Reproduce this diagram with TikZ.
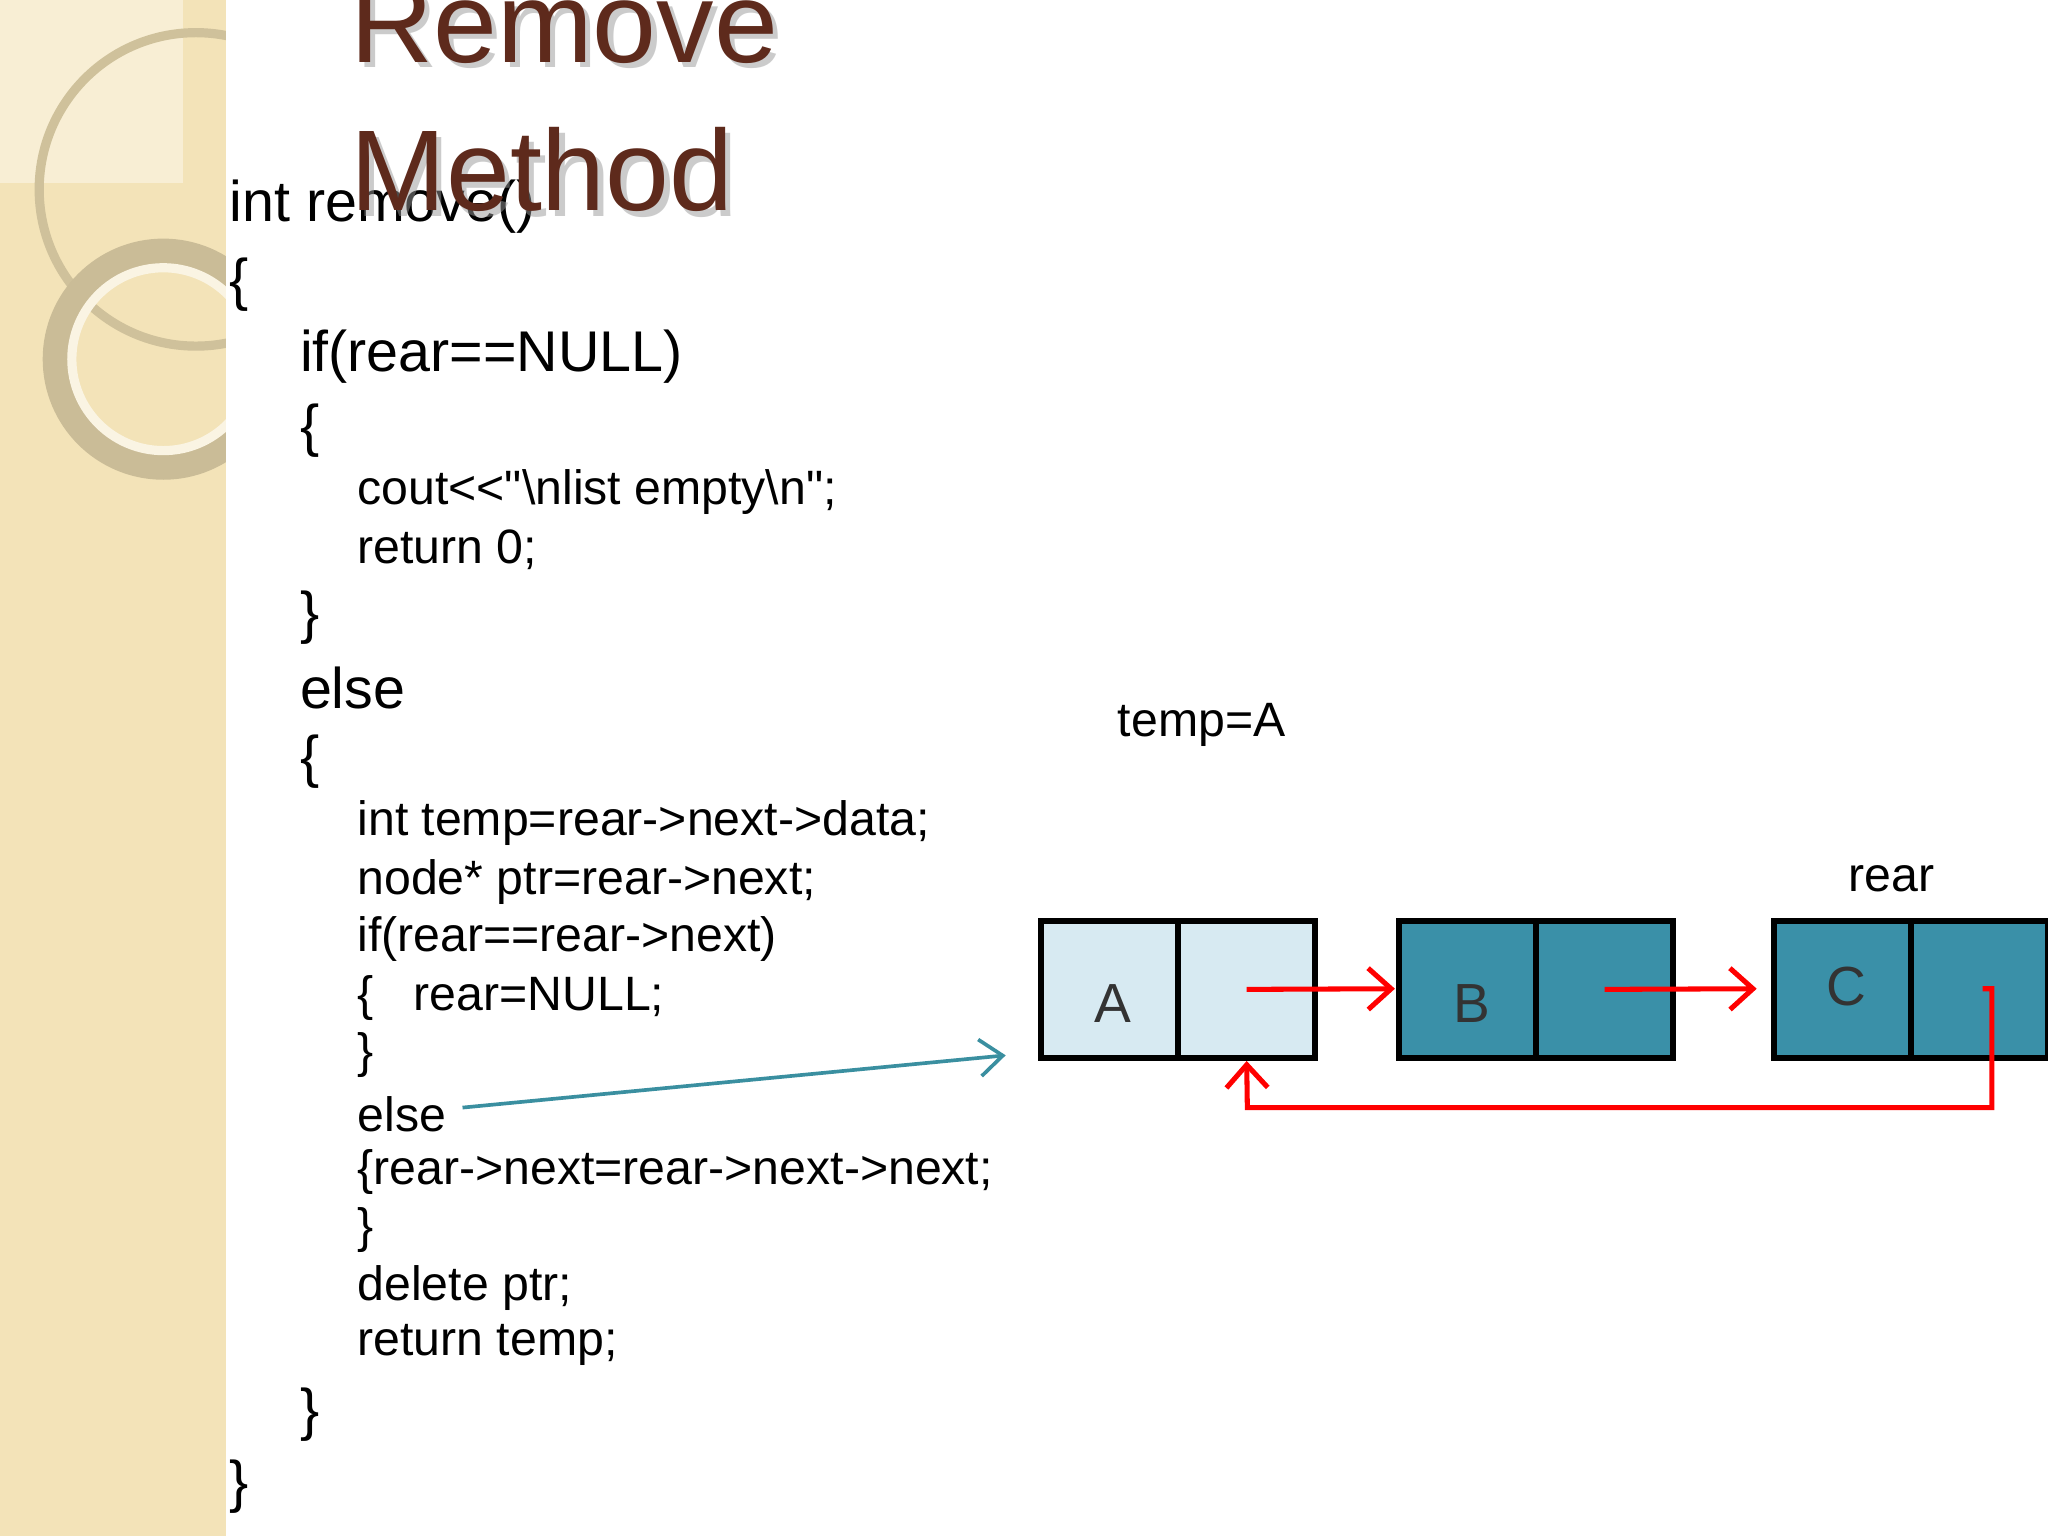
\documentclass[tikz,border=0pt]{standalone}
\usepackage{fontspec}
\setmainfont{Liberation Sans}[Ligatures=TeXOff]
\usetikzlibrary{arrows.meta}
\definecolor{beige}{HTML}{F3E3B8}
\definecolor{ring}{HTML}{E6D6AC}
\definecolor{titlec}{HTML}{5E2A1C}
\definecolor{lightA}{HTML}{D7EAF2}
\definecolor{tealB}{HTML}{3A90A8}
\definecolor{arrowteal}{HTML}{3A8FA0}
\tikzset{
  code/.style={anchor=west,inner sep=0pt,font=\fontsize{10.5pt}{12pt}\selectfont},
  codeL/.style={anchor=west,inner sep=0pt,font=\fontsize{12.5pt}{14pt}\selectfont},
  cell/.style={draw=black,line width=1.3pt,minimum width=1.05cm,minimum height=1.05cm,inner sep=0pt},
  lbl/.style={inner sep=0pt,font=\fontsize{10.5pt}{12pt}\selectfont},
  redarr/.style={draw=red,line width=1.1pt,-{Straight Barb[length=5pt,width=9pt]}},
  titlef/.style={inner sep=0pt,text=titlec,font=\fontsize{25pt}{28pt}\selectfont}
}
\begin{document}
\begin{tikzpicture}[x=0.01cm,y=-0.01cm]
\useasboundingbox (0,0) rectangle (1568,1176);
\begin{scope}
\clip (0,0) rectangle (1568,1176);
\fill[white] (0,0) rectangle (1568,1176);
\fill[beige] (0,0) rectangle (173,1176);
\fill[beige!60!white] (0,0) rectangle (140,140);
\draw[ring!90!black,line width=2pt] (150,145) circle (120);
\draw[ring!88!black,line width=7pt] (125,275) circle (80);
\draw[white!60!beige,line width=2pt] (125,275) circle (70);
\fill[white] (173,0) rectangle (1568,1176);

% code
\node[codeL] (l1) at (175,158) {int remove()};
\node[codeL] (l2) at (175,218) {\{};
\node[codeL] (l3) at (229,273) {if(rear==NULL)};
\node[codeL] (l4) at (229,330) {\{};
\node[code] (l5) at (273,377) {cout{<}{<}"\textbackslash nlist empty\textbackslash n";};
\node[code] (l6) at (273,421) {return 0;};
\node[codeL] (l7) at (229,473) {\}};
\node[codeL] (l8) at (229,527) {else};
\node[codeL] (l9) at (229,583) {\{};
\node[code] (l10) at (273,630) {int temp=rear->next->data;};
\node[code] (l11) at (273,675) {node* ptr=rear->next;};
\node[code] (l12) at (273,719) {if(rear==rear->next)};
\node[code] (l13) at (273,764) {\{\ \ \ rear=NULL;};
\node[code] (l14) at (273,808) {\}};
\node[code] (l15) at (273,853) {else};
\node[code] (l16) at (273,897) {\{rear->next=rear->next->next;};
\node[code] (l17) at (273,942) {\}};
\node[code] (l18) at (273,986) {delete ptr;};
\node[code] (l19) at (273,1030) {return temp;};
\node[codeL] (l20) at (229,1083) {\}};
\node[codeL] (l21) at (175,1138) {\}};

% title
\node[titlef,text=black!40,opacity=0.5] at (436,22) {Remove};
\node[titlef,text=black!40,opacity=0.5] at (419,134) {Method};
\node[titlef] (t1) at (432,18) {Remove};
\node[titlef] (t2) at (415,130) {Method};

% boxes
\node[cell,fill=lightA] (a1) at (849.5,757.5) {};
\node[cell,fill=lightA] (a2) at (954.5,757.5) {};
\node[cell,fill=tealB] (b1) at (1123.5,757.5) {};
\node[cell,fill=tealB] (b2) at (1228.5,757.5) {};
\node[cell,fill=tealB] (c1) at (1410.5,757.5) {};
\node[cell,fill=tealB] (c2) at (1515.5,757.5) {};
\node[lbl,font=\fontsize{12pt}{14pt}\selectfont,text=black!80] (ta) at (852,768) {A};
\node[lbl,font=\fontsize{12pt}{14pt}\selectfont,text=black!80] (tb) at (1127,768) {B};
\node[lbl,font=\fontsize{12pt}{14pt}\selectfont,text=black!80] (tc) at (1414,755) {C};
\node[lbl] (temp) at (920,555) {temp=A};
\node[lbl] (rear) at (1448,673) {rear};

\coordinate (pa) at (a2.center);
\coordinate (pb) at (b2.center);
\coordinate (pc) at (1518,757);
\coordinate (ea) at (1068,757);
\coordinate (eb) at (1345,757);
\draw[redarr] (pa) -- (ea);
\draw[redarr] (pb) -- (eb);
\draw[redarr] (pc) -- (1525,757) -- (1525,848) -- (955,848) -- (a2.south);

\coordinate (ar) at (770,808);
\draw[arrowteal,line width=0.8pt,-{Straight Barb[length=5pt,width=8pt]}] (l15.east)++(12,-5) -- (ar);
\end{scope}
\end{tikzpicture}
\end{document}
